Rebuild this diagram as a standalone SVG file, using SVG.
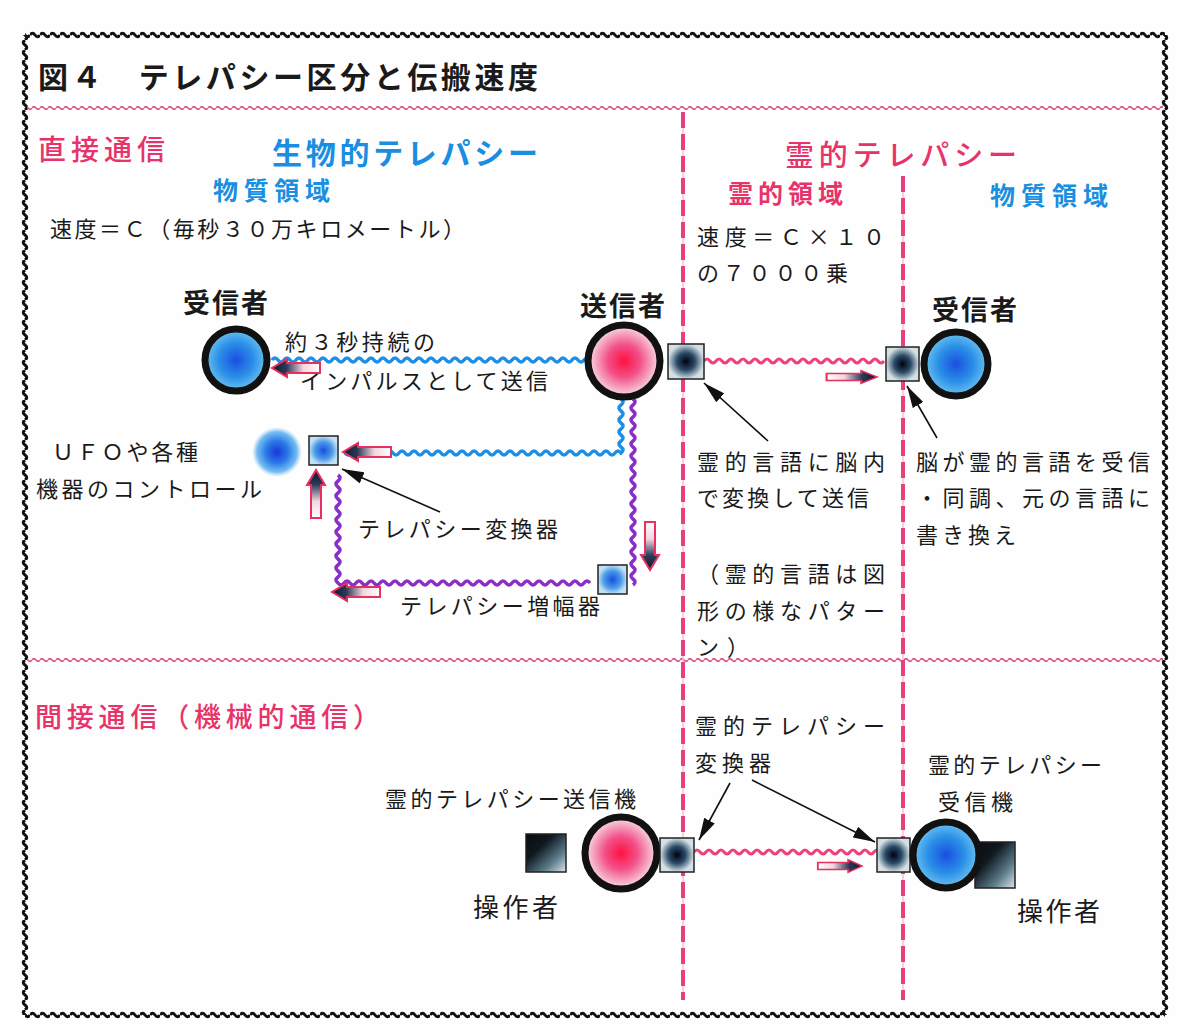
<svg xmlns="http://www.w3.org/2000/svg" width="1200" height="1035" viewBox="0 0 1200 1035">
<style>
.t{font-family:"Noto Sans CJK JP","Noto Sans CJK SC",sans-serif;font-size:22px;fill:#1a1a1a}
.b{font-weight:700}
.pk{fill:#e8336a}
.bl{fill:#1a8ee0}
.ring{stroke:#111;stroke-width:7}
.sq{stroke:#222;stroke-width:1.5}
.ann{stroke:#111;stroke-width:1.6;fill:none;marker-end:url(#ah)}
.wb{fill:none;stroke:#1e8fe6;stroke-width:3.5}
.wp{fill:none;stroke:#8a2ec8;stroke-width:3.5}
.wr{fill:none;stroke:#f0407a;stroke-width:3}
.dash{stroke:#e8407e;stroke-width:4;stroke-dasharray:16 6}
.dashbg{stroke:#f6c0d2;stroke-width:1.5}
</style>
<defs>
<pattern id="wH" width="10" height="10" patternUnits="userSpaceOnUse"><path d="M0,5 Q2.5,1.5 5,5 T10,5" fill="none" stroke="#111" stroke-width="3"/></pattern>
<pattern id="wV" width="10" height="10" patternUnits="userSpaceOnUse"><path d="M5,0 Q1.5,2.5 5,5 T5,10" fill="none" stroke="#111" stroke-width="3"/></pattern>
<pattern id="wP" width="8" height="8" patternUnits="userSpaceOnUse"><path d="M0,4 Q2,1.5 4,4 T8,4" fill="none" stroke="#e05a92" stroke-width="1.8"/></pattern>
<radialGradient id="gBlue"><stop offset="0" stop-color="#1a4fe0"/><stop offset="0.55" stop-color="#2a8ee8"/><stop offset="1" stop-color="#6cc4f0"/></radialGradient>
<radialGradient id="gPink"><stop offset="0" stop-color="#ff1040"/><stop offset="0.45" stop-color="#f25088"/><stop offset="1" stop-color="#f8e0e8"/></radialGradient>
<radialGradient id="gDark"><stop offset="0" stop-color="#000010"/><stop offset="0.5" stop-color="#2a4a68"/><stop offset="1" stop-color="#d4e0e4"/></radialGradient>
<radialGradient id="gBlueSq"><stop offset="0" stop-color="#1a50e0"/><stop offset="0.6" stop-color="#4a9ae8"/><stop offset="1" stop-color="#c0e0f4"/></radialGradient>
<radialGradient id="gBlob"><stop offset="0" stop-color="#1838d8"/><stop offset="0.45" stop-color="#2a7ae8"/><stop offset="0.8" stop-color="#5ab0f0" stop-opacity="0.85"/><stop offset="1" stop-color="#8cc8f4" stop-opacity="0"/></radialGradient>
<linearGradient id="gOp" x1="0" y1="0" x2="1" y2="1"><stop offset="0" stop-color="#0a0a10"/><stop offset="0.35" stop-color="#101820"/><stop offset="0.7" stop-color="#5a7a88"/><stop offset="1" stop-color="#dfe8ea"/></linearGradient>
<linearGradient id="gArr" x1="0" y1="0" x2="1" y2="0"><stop offset="0" stop-color="#ffffff"/><stop offset="0.35" stop-color="#f2d6de"/><stop offset="0.7" stop-color="#2a3a58"/><stop offset="1" stop-color="#101828"/></linearGradient>
<marker id="ah" viewBox="0 0 22 12" refX="22" refY="6" markerWidth="22" markerHeight="12" markerUnits="userSpaceOnUse" orient="auto"><path d="M0,0 L22,6 L0,12 Z" fill="#111"/></marker>
<path id="harrow" d="M-48,-5 L-15,-5 L-15,-9 L0,0 L-15,9 L-15,5 L-48,5 Z" fill="url(#gArr)" stroke="#e83060" stroke-width="2"/>
</defs>
<rect x="0" y="0" width="1200" height="1035" fill="#fefefe"/>
<g id="frame">
<rect x="25" y="30" width="1140" height="10" fill="url(#wH)"/>
<rect x="25" y="1010" width="1140" height="10" fill="url(#wH)"/>
<rect x="20" y="35" width="10" height="980" fill="url(#wV)"/>
<rect x="1160" y="35" width="10" height="980" fill="url(#wV)"/>
<rect x="27" y="104" width="1136" height="8" fill="url(#wP)"/>
<rect x="27" y="656" width="1136" height="8" fill="url(#wP)"/>
<line class="dashbg" x1="683" y1="112" x2="683" y2="1000"/>
<line class="dash" x1="683" y1="112" x2="683" y2="1000"/>
<line class="dashbg" x1="903" y1="176" x2="903" y2="1000"/>
<line class="dash" x1="903" y1="176" x2="903" y2="1000"/>
</g>
<g id="labels">
<text class="t b" x="38" y="88" style="font-size:30px" textLength="500" lengthAdjust="spacing">図４　テレパシー区分と伝搬速度</text>
<text class="t pk" x="38" y="160" style="font-size:28px;font-weight:500" textLength="127" lengthAdjust="spacing">直接通信</text>
<text class="t b bl" x="272" y="164" style="font-size:30px" textLength="266" lengthAdjust="spacing">生物的テレパシー</text>
<text class="t b bl" x="213" y="200" style="font-size:25px" textLength="117" lengthAdjust="spacing">物質領域</text>
<text class="t" x="50" y="237" textLength="415" lengthAdjust="spacing">速度＝Ｃ（毎秒３０万キロメートル）</text>
<text class="t pk" x="785" y="166" style="font-size:29px;font-weight:500" textLength="232" lengthAdjust="spacing">霊的テレパシー</text>
<text class="t b pk" x="728" y="203" style="font-size:25px" textLength="115" lengthAdjust="spacing">霊的領域</text>
<text class="t b bl" x="990" y="205" style="font-size:25px" textLength="118" lengthAdjust="spacing">物質領域</text>
<text class="t" x="697" y="245" textLength="188" lengthAdjust="spacing">速度＝Ｃ×１０</text>
<text class="t" x="697" y="281" textLength="151" lengthAdjust="spacing">の７０００乗</text>
<text class="t" x="697" y="470" textLength="188" lengthAdjust="spacing">霊的言語に脳内</text>
<text class="t" x="697" y="506" textLength="172" lengthAdjust="spacing">で変換して送信</text>
<text class="t" x="697" y="582" textLength="188" lengthAdjust="spacing">（霊的言語は図</text>
<text class="t" x="697" y="619" textLength="188" lengthAdjust="spacing">形の様なパター</text>
<text class="t" x="697" y="655" textLength="52" lengthAdjust="spacing">ン）</text>
<text class="t" x="916" y="470" textLength="234" lengthAdjust="spacing">脳が霊的言語を受信</text>
<text class="t" x="916" y="506" textLength="234" lengthAdjust="spacing">・同調、元の言語に</text>
<text class="t" x="916" y="543" textLength="100" lengthAdjust="spacing">書き換え</text>
<text class="t pk" x="35" y="727" style="font-size:27px;font-weight:500" textLength="345" lengthAdjust="spacing">間接通信（機械的通信）</text>
<text class="t" x="695" y="734" textLength="190" lengthAdjust="spacing">霊的テレパシー</text>
<text class="t" x="695" y="771" textLength="76" lengthAdjust="spacing">変換器</text>
<text class="t" x="285" y="350" textLength="150" lengthAdjust="spacing">約３秒持続の</text>
<text class="t" x="300" y="389" textLength="248" lengthAdjust="spacing">インパルスとして送信</text>
</g>
<g id="connectors">
<path class="wb" d="M272,360 q3,-4 6,0 t6,0 t6,0 t6,0 t6,0 t6,0 t6,0 t6,0 t6,0 t6,0 t6,0 t6,0 t6,0 t6,0 t6,0 t6,0 t6,0 t6,0 t6,0 t6,0 t6,0 t6,0 t6,0 t6,0 t6,0 t6,0 t6,0 t6,0 t6,0 t6,0 t6,0 t6,0 t6,0 t6,0 t6,0 t6,0 t6,0 t6,0 t6,0 t6,0 t6,0 t6,0 t6,0 t6,0 t6,0 t6,0 t6,0 t6,0 t6,0 t6,0 t6,0 t6,0 t6,0"/>
<path class="wr" d="M704,361 q3,-4 6,0 t6,0 t6,0 t6,0 t6,0 t6,0 t6,0 t6,0 t6,0 t6,0 t6,0 t6,0 t6,0 t6,0 t6,0 t6,0 t6,0 t6,0 t6,0 t6,0 t6,0 t6,0 t6,0 t6,0 t6,0 t6,0 t6,0 t6,0 t6,0 t6,0"/>
<path class="wb" d="M621,399 q4,3 0,6 t0,6 t0,6 t0,6 t0,6 t0,6 t0,6 t0,6 t0,6 q-3,-4 -6,0 t-6,0 t-6,0 t-6,0 t-6,0 t-6,0 t-6,0 t-6,0 t-6,0 t-6,0 t-6,0 t-6,0 t-6,0 t-6,0 t-6,0 t-6,0 t-6,0 t-6,0 t-6,0 t-6,0 t-6,0 t-6,0 t-6,0 t-6,0 t-6,0 t-6,0 t-6,0 t-6,0 t-6,0 t-6,0 t-6,0 t-6,0 t-6,0 t-6,0 t-6,0 t-6,0 t-6,0 t-6,0 t-6,0 t-6,0 t-6,0 t-6,0 t-6,0 t-6,0 t-6,0 t-6,0"/>
<path class="wp" d="M633,399 q4,3 0,6 t0,6 t0,6 t0,6 t0,6 t0,6 t0,6 t0,6 t0,6 t0,6 t0,6 t0,6 t0,6 t0,6 t0,6 t0,6 t0,6 t0,6 t0,6 t0,6 t0,6 t0,6 t0,6 t0,6 t0,6 t0,6 t0,6 t0,6 t0,6 t0,6 t0,6"/>
<path class="wp" d="M590,583 q-3,-4 -6,0 t-6,0 t-6,0 t-6,0 t-6,0 t-6,0 t-6,0 t-6,0 t-6,0 t-6,0 t-6,0 t-6,0 t-6,0 t-6,0 t-6,0 t-6,0 t-6,0 t-6,0 t-6,0 t-6,0 t-6,0 t-6,0 t-6,0 t-6,0 t-6,0 t-6,0 t-6,0 t-6,0 t-6,0 t-6,0 t-6,0 t-6,0 t-6,0 t-6,0 t-6,0 t-6,0 t-6,0 t-6,0 t-6,0 t-6,0 t-6,0 t-6,0 q-4,-3 0,-6 t0,-6 t0,-6 t0,-6 t0,-6 t0,-6 t0,-6 t0,-6 t0,-6 t0,-6 t0,-6 t0,-6 t0,-6 t0,-6 t0,-6 t0,-6 t0,-6 t0,-6"/>
<path class="wr" d="M694,852 q3,-4 6,0 t6,0 t6,0 t6,0 t6,0 t6,0 t6,0 t6,0 t6,0 t6,0 t6,0 t6,0 t6,0 t6,0 t6,0 t6,0 t6,0 t6,0 t6,0 t6,0 t6,0 t6,0 t6,0 t6,0 t6,0 t6,0 t6,0 t6,0 t6,0 t6,0 t6,0"/>
<use href="#harrow" transform="translate(272,368) rotate(180)"/>
<use href="#harrow" transform="translate(343,452) rotate(180)"/>
<use href="#harrow" transform="translate(650,570) rotate(90)"/>
<use href="#harrow" transform="translate(332,592) rotate(180)"/>
<use href="#harrow" transform="translate(316,470) rotate(-90)"/>
<use href="#harrow" transform="translate(877,377) scale(1.05,0.7)"/>
<use href="#harrow" transform="translate(862,866) scale(0.92,0.7)"/>
<line class="ann" x1="440" y1="512" x2="342" y2="469"/>
<line class="ann" x1="768" y1="441" x2="704" y2="383"/>
<line class="ann" x1="937" y1="438" x2="907" y2="386"/>
<line class="ann" x1="730" y1="783" x2="699" y2="840"/>
<line class="ann" x1="752" y1="780" x2="875" y2="842"/>
</g>
<g id="recv-left">
<circle class="ring" cx="236" cy="360" r="31" fill="url(#gBlue)"/>
<text class="t b" x="183" y="313" style="font-size:27px" textLength="85" lengthAdjust="spacing">受信者</text>
</g>
<g id="sender">
<circle class="ring" cx="624" cy="361" r="36" fill="url(#gPink)"/>
<text class="t b" x="580" y="316" style="font-size:27px" textLength="85" lengthAdjust="spacing">送信者</text>
</g>
<g id="sender-conv"><rect class="sq" x="668" y="344" width="36" height="35" fill="url(#gDark)"/></g>
<g id="recv-right-conv"><rect class="sq" x="886" y="347" width="33" height="34" fill="url(#gDark)"/></g>
<g id="recv-right">
<circle class="ring" cx="956" cy="364" r="32" fill="url(#gBlue)"/>
<text class="t b" x="932" y="320" style="font-size:27px" textLength="85" lengthAdjust="spacing">受信者</text>
</g>
<g id="ufo">
<circle cx="277" cy="452" r="25" fill="url(#gBlob)"/>
<text class="t" x="52" y="460" textLength="146" lengthAdjust="spacing">ＵＦＯや各種</text>
<text class="t" x="36" y="497" textLength="226" lengthAdjust="spacing">機器のコントロール</text>
</g>
<g id="converter">
<rect class="sq" x="309" y="436" width="29" height="29" fill="url(#gBlueSq)"/>
<text class="t" x="358" y="537" textLength="200" lengthAdjust="spacing">テレパシー変換器</text>
</g>
<g id="amplifier">
<rect class="sq" x="598" y="565" width="29" height="29" fill="url(#gBlueSq)"/>
<text class="t" x="400" y="614" textLength="200" lengthAdjust="spacing">テレパシー増幅器</text>
</g>
<g id="tx-operator">
<rect class="sq" x="526" y="834" width="40" height="38" fill="url(#gOp)"/>
<text class="t" x="473" y="917" style="font-size:26px" textLength="85" lengthAdjust="spacing">操作者</text>
</g>
<g id="transmitter">
<circle class="ring" cx="621" cy="853" r="36" fill="url(#gPink)"/>
<text class="t" x="385" y="807" textLength="251" lengthAdjust="spacing">霊的テレパシー送信機</text>
</g>
<g id="tx-conv"><rect class="sq" x="660" y="838" width="34" height="34" fill="url(#gDark)"/></g>
<g id="rx-conv"><rect class="sq" x="877" y="838" width="33" height="34" fill="url(#gDark)"/></g>
<g id="rx-operator">
<rect class="sq" x="975" y="842" width="40" height="46" fill="url(#gOp)"/>
<text class="t" x="1017" y="921" style="font-size:26px" textLength="83" lengthAdjust="spacing">操作者</text>
</g>
<g id="receiver">
<circle class="ring" cx="946" cy="855" r="33" fill="url(#gBlue)"/>
<text class="t" x="928" y="773" textLength="174" lengthAdjust="spacing">霊的テレパシー</text>
<text class="t" x="938" y="810" textLength="75" lengthAdjust="spacing">受信機</text>
</g>
</svg>
